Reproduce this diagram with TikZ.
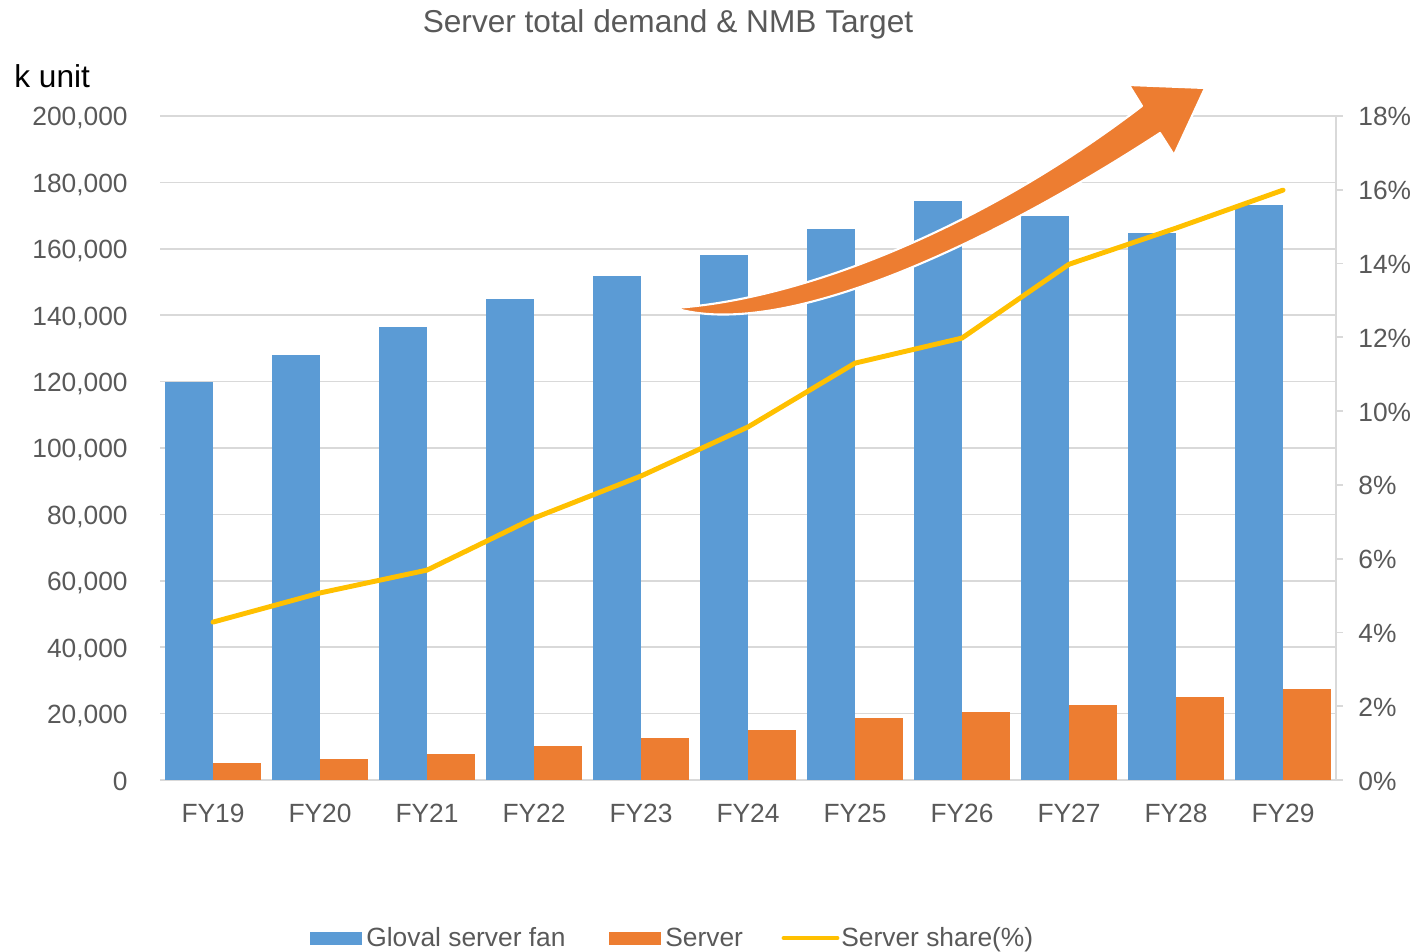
\documentclass[tikz,border=0pt]{standalone}
\usepackage{fontspec}
\setmainfont{Liberation Sans}
\usetikzlibrary{positioning}

\definecolor{fanblue}{HTML}{5B9BD5}
\definecolor{srvorange}{HTML}{ED7D31}
\definecolor{shareyellow}{HTML}{FFC000}
\definecolor{gridgray}{HTML}{D9D9D9}
\definecolor{labelgray}{HTML}{595959}

\begin{document}
\begin{tikzpicture}[x=0.02cm, y=-0.02cm,
    lbl/.style={text=labelgray, font=\fontsize{15}{18}\selectfont, inner sep=0pt},
    gridline/.style={draw=gridgray, line width=1pt},
    shareline/.style={draw=shareyellow, line width=2.8pt, line join=round, line cap=round}]

\useasboundingbox (0,0) rectangle (1420,952);

\node [lbl, anchor=base, font=\fontsize{18}{22}\selectfont] (title) at (668,33) {Server total demand \& NMB Target};
\node [anchor=base west, inner sep=0pt, font=\fontsize{18}{22}\selectfont] (unit) at (14,88) {k unit};

\foreach \k in {1,...,10}
    \draw [gridline] (160, 780-66.4*\k) -- (1336, 780-66.4*\k);

\draw [gridline] (160,780) -- (1336,780);
\draw [gridline] (1336,116) -- (1336,780);

\foreach \k/\t in {0/0, 1/{20,000}, 2/{40,000}, 3/{60,000}, 4/{80,000}, 5/{100,000},
                   6/{120,000}, 7/{140,000}, 8/{160,000}, 9/{180,000}, 10/{200,000}}
    \node [lbl, anchor=base east] (yl\k) at (128, 790-66.4*\k) {\t};

\foreach \k [evaluate=\k as \pc using int(2*\k)] in {0,...,9} {
    \draw [gridline] (1336, 780-73.78*\k) -- (1343, 780-73.78*\k);
    \node [lbl, anchor=base west] (yr\k) at (1358, 790-73.78*\k) {\pc\%};
}

\foreach \b/\s/\p [count=\i from 0] in {119.8/5.1/4.28, 128.0/6.3/5.07, 136.4/7.8/5.69,
        144.9/10.2/7.10, 151.8/12.7/8.24, 158.1/15.1/9.57, 166.0/18.7/11.30,
        174.4/20.5/11.98, 169.9/22.6/13.98, 164.8/25.0/14.96, 173.2/27.4/15.99} {
    \fill [fanblue] (213+107*\i-48, 780) rectangle (213+107*\i, 780-3.32*\b);
    \fill [srvorange] (213+107*\i, 780) rectangle (213+107*\i+48, 780-3.32*\s);
    \coordinate (p\i) at (213+107*\i, 780-36.89*\p);
    \pgfmathtruncatemacro\fy{19+\i}
    \node [lbl, anchor=base] (fy\i) at (213+107*\i, 822) {FY\fy};
}

\filldraw [fill=srvorange, draw=white, line width=1.2pt, line join=round]
    (674,308) .. controls (800,300) and (980,230) .. (1142,106)
    -- (1129,85) -- (1205,88) -- (1174,155) -- (1160,133)
    .. controls (980,250) and (780,340) .. (674,308) -- cycle;

\draw [shareline] (p0) \foreach \i in {1,...,10} {-- (p\i)};

\fill [fanblue] (310,932) rectangle (362,945);
\node [lbl, anchor=base west] (lgfan) at (366,946) {Gloval server fan};
\fill [srvorange] (609,932) rectangle (661,945);
\node [lbl, anchor=base west] (lgsrv) at (665,946) {Server};
\draw [shareline] (784,938) -- (837,938);
\node [lbl, anchor=base west] (lgshare) at (841,946) {Server share(\%)};

\end{tikzpicture}
\end{document}
